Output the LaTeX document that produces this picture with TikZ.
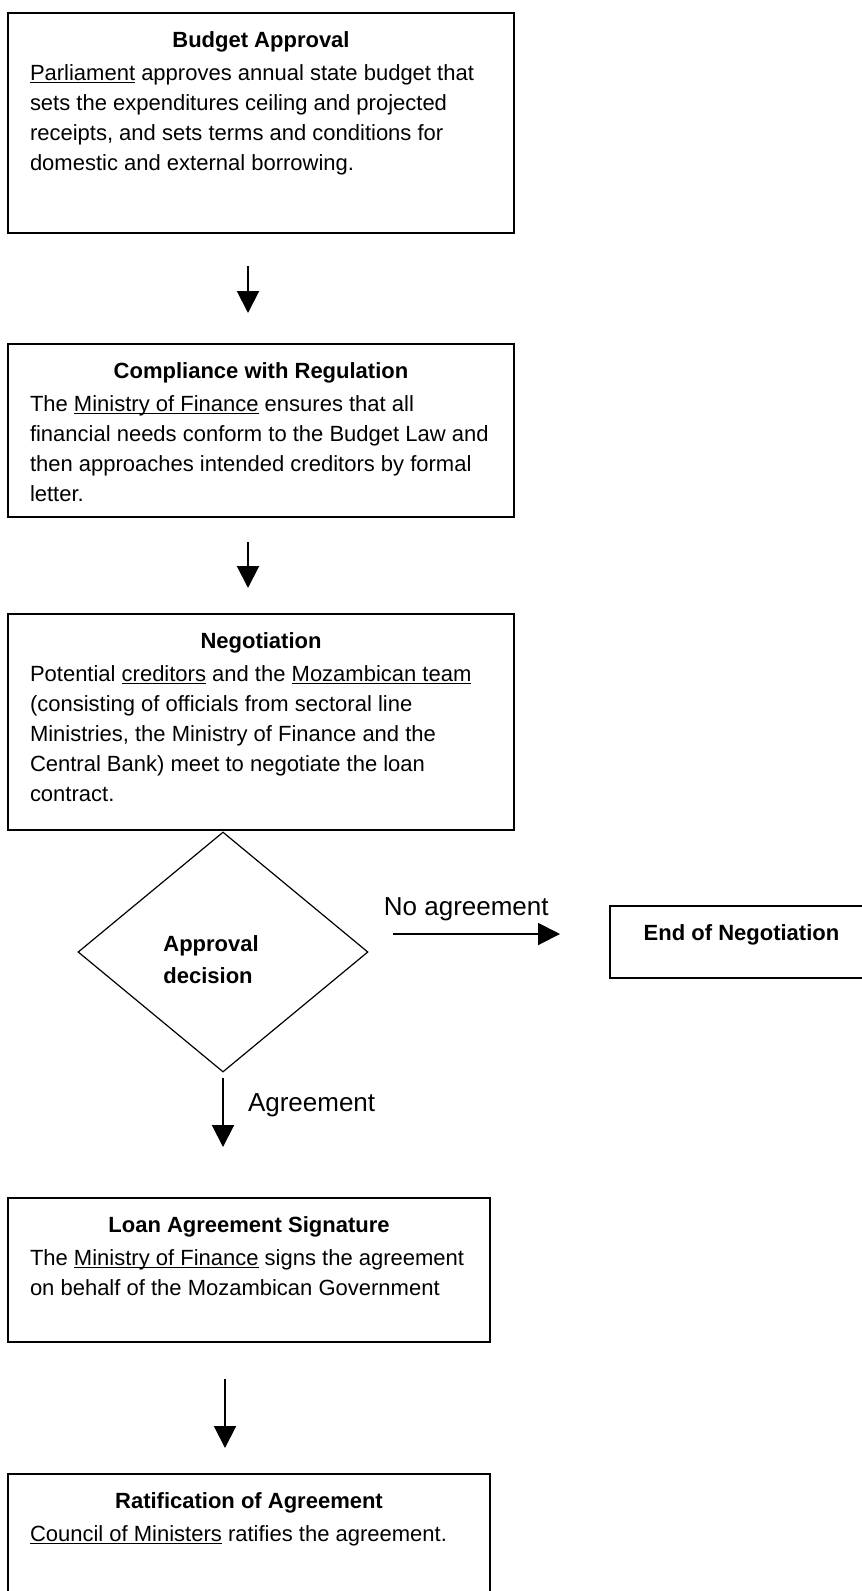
\documentclass[tikz,border=0pt]{standalone}
\usepackage{fontspec}
\setmainfont{Liberation Sans}
\usetikzlibrary{arrows.meta,shapes.geometric,positioning}

\newcommand{\ulword}[1]{$\underline{\smash{\hbox{#1}}}$}
\newcommand{\stepbody}[4]{\parbox[c][#2][t]{#1}{\fontsize{11}{15}\selectfont
  \centering\textbf{\rule{0pt}{17pt}#3}\par\vspace{1.5pt}\raggedright #4}}

\tikzset{
  stepbox/.style={draw, line width=1pt, inner xsep=11pt, inner ysep=0pt, anchor=north west},
  decisionbox/.style={draw, diamond, line width=.6pt, minimum width=145pt, minimum height=120pt, inner sep=0pt},
  flow/.style={line width=1pt, -{Triangle[width=11pt,length=11pt]}},
  flowlabel/.style={font=\fontsize{13}{15}\selectfont, inner sep=0pt}
}

\begin{document}
\begin{tikzpicture}[x=.5pt,y=-.5pt]
\fill[white] (0,0) rectangle (862,1591);
\clip (0,0) rectangle (862,1591);
\node[stepbox] (budget) at (7,12) {\stepbody{231pt}{110pt}{Budget Approval}{\ulword{Parliament} approves annual state budget that\\
  sets the expenditures ceiling and projected\\ receipts, and sets terms and conditions for\\ domestic and external borrowing.}};
\node[stepbox] (compliance) at (7,343) {\stepbody{231pt}{86.5pt}{Compliance with Regulation}{The \ulword{Ministry of Finance} ensures that all\\
  financial needs conform to the Budget Law and\\ then approaches intended creditors by formal\\ letter.}};
\node[stepbox] (negotiation) at (7,613) {\stepbody{231pt}{108pt}{Negotiation}{Potential \ulword{creditors} and the \ulword{Mozambican team}\\
  (consisting of officials from sectoral line\\ Ministries, the Ministry of Finance and the\\ Central Bank) meet to negotiate the loan\\ contract.}};
\node[decisionbox] (decision) at (223,952) {};
\node[anchor=west, inner sep=0pt, align=left, font=\bfseries\fontsize{11}{16}\selectfont] (decisiontext) at (163,960) {Approval\\decision};
\node[stepbox] (endneg) at (609,905) {\stepbody{109.5pt}{36pt}{End of Negotiation}{}};
\node[stepbox] (signature) at (7,1197) {\stepbody{219pt}{72pt}{Loan Agreement Signature}{The \ulword{Ministry of Finance} signs the agreement\\
  on behalf of the Mozambican Government}};
\node[stepbox] (ratification) at (7,1473) {\stepbody{219pt}{70pt}{Ratification of Agreement}{\ulword{Council of Ministers} ratifies the agreement.}};

\coordinate (noexit) at ([yshift=9pt]decision.east);
\draw[flow, shorten <=16pt, shorten >=15pt] ([xshift=-6.5pt]budget.south) -- ([xshift=-6.5pt]compliance.north);
\draw[flow, shorten <=12pt, shorten >=12.5pt] ([xshift=-6.5pt]compliance.south) -- ([xshift=-6.5pt]negotiation.north);
\draw[flow, shorten <=12pt, shorten >=24.5pt] (noexit) -- (noexit -| endneg.west)
  node[flowlabel, midway, anchor=base, xshift=-11.25pt, yshift=9.5pt] {No agreement};
\draw[flow, shorten <=2.5pt, shorten >=25pt] (decision.south) -- (decision.south |- signature.north)
  node[flowlabel, midway, anchor=base west, xshift=12pt, yshift=11.75pt] {Agreement};
\draw[flow, shorten <=18pt, shorten >=12.5pt] ([xshift=-12pt]signature.south) -- ([xshift=-12pt]ratification.north);
\end{tikzpicture}
\end{document}
